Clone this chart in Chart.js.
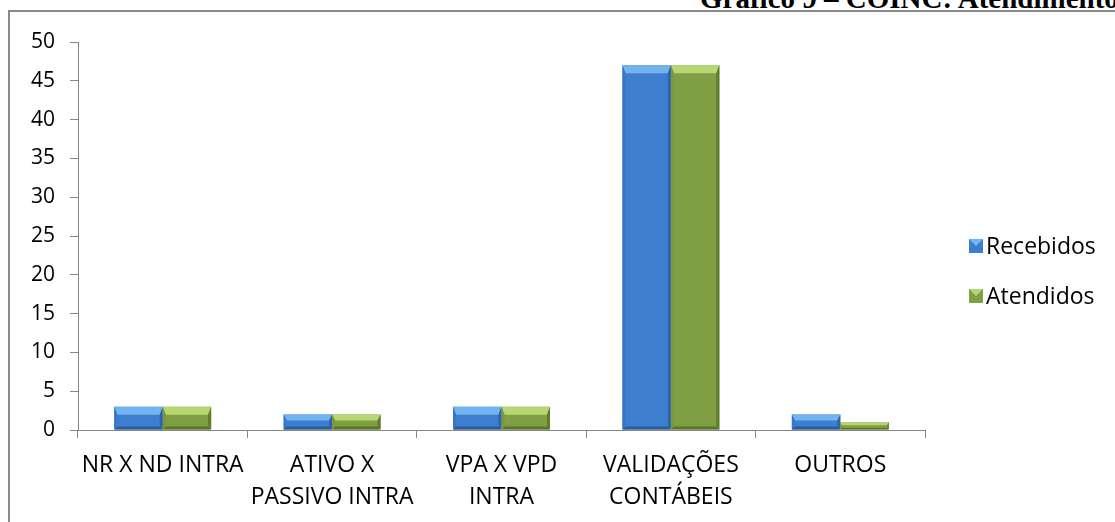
<!DOCTYPE html>
<html>
<head>
<meta charset="utf-8">
<script src="https://cdn.jsdelivr.net/npm/chart.js@4.4.1/dist/chart.umd.min.js"></script>
<style>
    html, body { margin: 0; padding: 0; background: #fff; width: 1115px; height: 522px; overflow: hidden; }
    #titulo { position: absolute; left: 700px; top: -16px; font: bold 29px "Liberation Serif"; line-height: 29px; white-space: nowrap; color: #000; }
    #caixa { position: absolute; left: 8px; top: 10px; width: 1190px; height: 536px; border: 2px solid #8a8a8a; background: #fff; }
    canvas { display: block; }
</style>
</head>
<body>
<div id="titulo">Gráfico 9 – COINC: Atendimentos</div>
<div id="caixa"><canvas id="grafico" width="1190" height="536"></canvas></div>
<script>
// dados do gráfico
const categorias = ['NR X ND INTRA', ['ATIVO X', 'PASSIVO INTRA'], ['VPA X VPD', 'INTRA'], ['VALIDAÇÕES', 'CONTÁBEIS'], 'OUTROS'];
const recebidos = [3, 2, 3, 47, 2];
const atendidos = [3, 2, 3, 47, 1];
const nomesSeries = ['Recebidos', 'Atendidos'];
const eixoMin = 0;
const eixoMax = 50;
const eixoPasso = 5;

const fonte = 'Open Sans';

// cores das faces do chanfro (estilo Excel)
const estilos = [
    { face: '#3d7fce', topo: '#73b3f0', esq: '#3877c6', dir: '#2f65a8', base: '#2c5b98' },
    { face: '#809f44', topo: '#b6d774', esq: '#7a9840', dir: '#5f7c2d', base: '#5a7429' }
];

function poligono(ctx, pts, cor) {
    ctx.beginPath();
    ctx.moveTo(pts[0][0], pts[0][1]);
    for (let i = 1; i < pts.length; i++) ctx.lineTo(pts[i][0], pts[i][1]);
    ctx.closePath();
    ctx.fillStyle = cor;
    ctx.fill();
}

// desenha o chanfro por cima das barras
const chanfro = {
    id: 'chanfro',
    afterDatasetsDraw(chart) {
        const ctx = chart.ctx;
        ctx.save();
        chart.data.datasets.forEach((ds, i) => {
            const est = estilos[i];
            chart.getDatasetMeta(i).data.forEach(bar => {
                const p = bar.getProps(['x', 'y', 'base', 'width'], true);
                const l = p.x - p.width / 2, r = p.x + p.width / 2;
                const t = Math.min(p.y, p.base), b = Math.max(p.y, p.base);
                const h = b - t;
                const st = Math.min(8, h * 0.4), sl = Math.min(3, h * 0.2);
                poligono(ctx, [[l, t], [r, t], [r - sl, t + st], [l + sl, t + st]], est.topo);
                poligono(ctx, [[l, b], [r, b], [r - sl, b - sl], [l + sl, b - sl]], est.base);
                poligono(ctx, [[l, t], [l + sl, t + st], [l + sl, b - sl], [l, b]], est.esq);
                poligono(ctx, [[r, t], [r - sl, t + st], [r - sl, b - sl], [r, b]], est.dir);
            });
        });
        ctx.restore();
    }
};

// legenda à direita
const legenda = {
    id: 'legenda',
    afterDraw(chart) {
        const ctx = chart.ctx;
        const area = chart.chartArea;
        ctx.save();
        ctx.font = '23px "' + fonte + '"';
        ctx.textBaseline = 'middle';
        chart.data.datasets.forEach((ds, i) => {
            const x = area.right + 44;
            const y = area.top + 204 + i * 50;
            const est = estilos[i];
            poligono(ctx, [[x, y - 7], [x + 14, y - 7], [x + 14, y + 7], [x, y + 7]], est.face);
            poligono(ctx, [[x, y - 7], [x + 14, y - 7], [x + 7, y], [x + 7, y]], est.topo);
            ctx.fillStyle = '#000';
            ctx.fillText(ds.label, x + 17, y + 1);
        });
        ctx.restore();
    }
};

new Chart(document.getElementById('grafico'), {
    type: 'bar',
    data: {
        labels: categorias,
        datasets: [
            { label: nomesSeries[0], data: recebidos, backgroundColor: estilos[0].face, borderWidth: 0 },
            { label: nomesSeries[1], data: atendidos, backgroundColor: estilos[1].face, borderWidth: 0 }
        ]
    },
    options: {
        responsive: false,
        animation: false,
        events: [],
        layout: { padding: { top: 30, right: 275, left: 0, bottom: 0 } },
        datasets: { bar: { categoryPercentage: 0.572, barPercentage: 1 } },
        scales: {
            x: {
                grid: { display: true, drawOnChartArea: false, drawTicks: true, tickLength: 8, color: '#868686', offset: true },
                border: { display: true, color: '#868686', width: 1 },
                ticks: { color: '#000', font: { family: fonte, size: 23, lineHeight: 1.4 }, padding: 11, maxRotation: 0, minRotation: 0, autoSkip: false },
                afterFit(scale) { scale.height = 118; }
            },
            y: {
                min: eixoMin,
                max: eixoMax,
                grid: { display: true, drawOnChartArea: false, drawTicks: true, tickLength: 8, color: '#868686' },
                border: { display: true, color: '#868686', width: 1 },
                ticks: { stepSize: eixoPasso, color: '#000', font: { family: fonte, size: 21 }, padding: 15 },
                afterFit(scale) { scale.width = 68; }
            }
        },
        plugins: {
            legend: { display: false },
            tooltip: { enabled: false }
        }
    },
    plugins: [chanfro, legenda]
});
</script>
</body>
</html>
